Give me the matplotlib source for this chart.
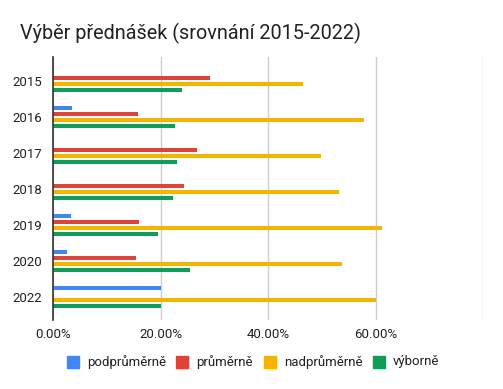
import matplotlib
matplotlib.use("Agg")
import matplotlib.pyplot as plt
import numpy as np
from matplotlib.patches import Rectangle

plt.rcParams['font.family'] = ['Roboto', 'DejaVu Sans']

years = ["2015", "2016", "2017", "2018", "2019", "2020", "2022"]
series_names = ["podprůměrně", "průměrně", "nadprůměrně", "výborně"]
podprumerne = [0.0, 3.4, 0.0, 0.0, 3.2, 2.5, 20.0]
prumerne = [29.2, 15.7, 26.8, 24.4, 16.0, 15.3, 0.0]
nadprumerne = [46.5, 57.8, 49.8, 53.2, 61.2, 53.7, 60.0]
vyborne = [24.0, 22.7, 23.1, 22.2, 19.4, 25.5, 20.0]
colors = ["#4285F4", "#DB4437", "#F4B400", "#0F9D58"]
xticks = [0, 20, 40, 60, 80]
xticklabels = ["0.00%", "20.00%", "40.00%", "60.00%", ""]
title = "Výběr přednášek (srovnání 2015-2022)"

W, H = 503, 389
top_px, bot_px = 57, 319.5
fig = plt.figure(figsize=(W / 100, H / 100), dpi=100)
ax = fig.add_axes([53.3 / W, 1 - bot_px / H, (483.3 - 53.3) / W, (bot_px - top_px) / H])

data = [podprumerne, prumerne, nadprumerne, vyborne]
n = len(years)
y = np.arange(n)
pitch = 1 / 6
bh = 4 / 36
for i, (vals, c) in enumerate(zip(data, colors)):
    offs = (i - 1.5) * pitch
    ax.barh(y + offs, vals, height=bh, color=c, zorder=3)

ax.set_ylim(n - 0.5 + 4.5 / 36, -0.5 - 6 / 36)
ax.set_xlim(0, 80)
ax.set_yticks(y)
ax.set_yticklabels(years, fontsize=9.5, color="#222222")
ax.set_xticks(xticks)
ax.set_xticklabels(xticklabels, fontsize=9.5, color="#222222")
ax.tick_params(axis="both", length=0)
ax.tick_params(axis="y", pad=8)
ax.tick_params(axis="x", pad=6)
for t in ax.get_xticklabels():
    t.set_horizontalalignment("center")
ax.grid(axis="x", color="#cccccc", linewidth=1, zorder=0)
for s in ["top", "right", "bottom"]:
    ax.spines[s].set_visible(False)
ax.spines["left"].set_color("#333333")
ax.spines["left"].set_linewidth(1.2)
ax.spines["left"].set_zorder(4)

fig.text(20 / W, 1 - 33 / H, title, fontsize=14.3, color="#222222", va="center", ha="left")

# legend
sq_x = [67, 176, 264, 373]
for sx, name, c in zip(sq_x, series_names, colors):
    fig.patches.append(Rectangle((sx / W, 1 - 368 / H), 12 / W, 12 / H,
                                 transform=fig.transFigure, color=c, figure=fig))
    fig.text((sx + 20) / W, 1 - 362 / H, name, fontsize=9.5, color="#222222",
             va="center", ha="left")

fig.savefig("out.png", dpi=100)
